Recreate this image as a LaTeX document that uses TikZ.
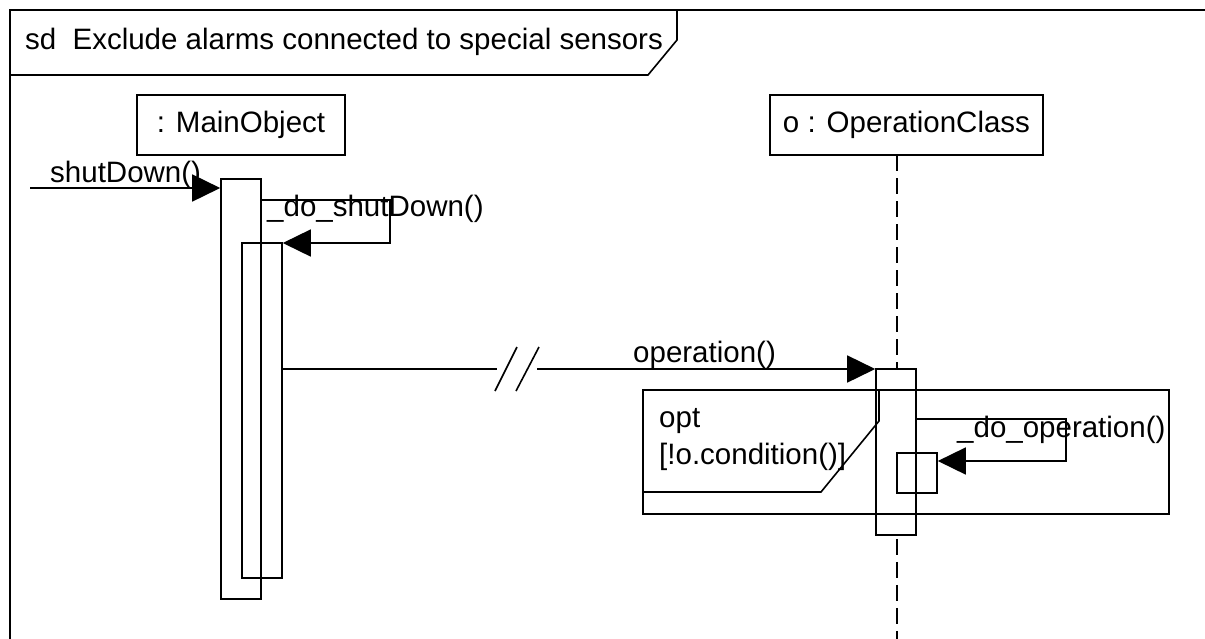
\documentclass[tikz,border=0pt]{standalone}
\usepackage{fontspec}
\setmainfont{Liberation Sans}
\usetikzlibrary{arrows.meta}
\begin{document}
\begin{tikzpicture}[x=1pt,y=-1pt,
  every node/.style={font=\fontsize{29.5}{35}\selectfont},
  ln/.style={line width=1.6pt},
  headbox/.style={ln, draw, rectangle, inner sep=0pt, minimum height=60pt},
  actbar/.style={ln, draw, rectangle, inner sep=0pt, minimum width=40pt},
  msg/.style={ln, -{Triangle[length=28pt,width=27pt]}},
  lifeline/.style={ln, dash pattern=on 16pt off 7pt},
  lbl/.style={anchor=base west, inner sep=0pt}]
\useasboundingbox (0,0) rectangle (1205,638);
\clip (0,0) rectangle (1205,638);

% sequence diagram frame and its name tab
\draw[ln] (10,650) -- (10,10) -- (1220,10);
\draw[ln] (10,75) -- (648,75) -- (677,40) -- (677,10);
\node[lbl] (title) at (25,49) {sd\hspace{0.55em}Exclude alarms connected to special sensors};

% lifeline heads
\node[headbox, minimum width=208pt] (main) at (241,125) {: MainObject};
\node[headbox, minimum width=273pt] (opc) at (906.5,125) {o : OperationClass};

% activation bars
\node[actbar, minimum height=420pt] (a1) at (241,389) {};
\node[actbar, minimum height=335pt] (a2) at (262,410.5) {};
\node[actbar, minimum height=166pt] (a3) at (896,452) {};
\node[actbar, minimum height=40pt]  (a4) at (917,473) {};

% lifeline of o : OperationClass
\coordinate (ll0) at (897,155);
\coordinate (ll1) at (897,645);
\draw[lifeline] (ll0) -- (ll0 |- a3.north);
\draw[lifeline] (ll1 |- a3.south) ++(0,3) -- (ll1);

% opt combined fragment
\node[ln, draw, rectangle, inner sep=0pt, minimum width=526pt, minimum height=124pt] (opt) at (906,452) {};
\coordinate (p1) at (821,492);
\coordinate (p2) at (879,421);
\coordinate (p3) at (879,390);
\draw[ln] (p1 -| opt.west) -- (p1) -- (p2) -- (p3);
\node[lbl] (optkw) at (659,427) {opt};
\node[lbl] (guard) at (659,464) {[!o.condition()]};

% found message shutDown()
\coordinate (in) at (30,188);
\draw[msg] (in) -- (in -| a1.west);
\node[lbl] (l1) at (50,182) {shutDown()};

% self call _do_shutDown()
\coordinate (s1) at (390,200);
\coordinate (s2) at (390,243);
\draw[msg] (s1 -| a1.east) -- (s1) -- (s2) -- (s2 -| a2.east);
\node[lbl] (l2) at (267,216) {\_do\_shutDown()};

% operation() with a time break
\coordinate (b1) at (497,369);
\coordinate (b2) at (537,369);
\draw[ln] (b1 -| a2.east) -- (b1);
\draw[msg] (b2) -- (b2 -| a3.west);
\draw[ln] (495,391) -- (517,347);
\draw[ln] (516,391) -- (539,347);
\node[lbl] (l3) at (633,362) {operation()};

% self call _do_operation()
\coordinate (t1) at (1066,419);
\coordinate (t2) at (1066,461);
\draw[msg] (t1 -| a3.east) -- (t1) -- (t2) -- (t2 -| a4.east);
\node[lbl] (l4) at (957,437) {\_do\_operation()};
\end{tikzpicture}
\end{document}
